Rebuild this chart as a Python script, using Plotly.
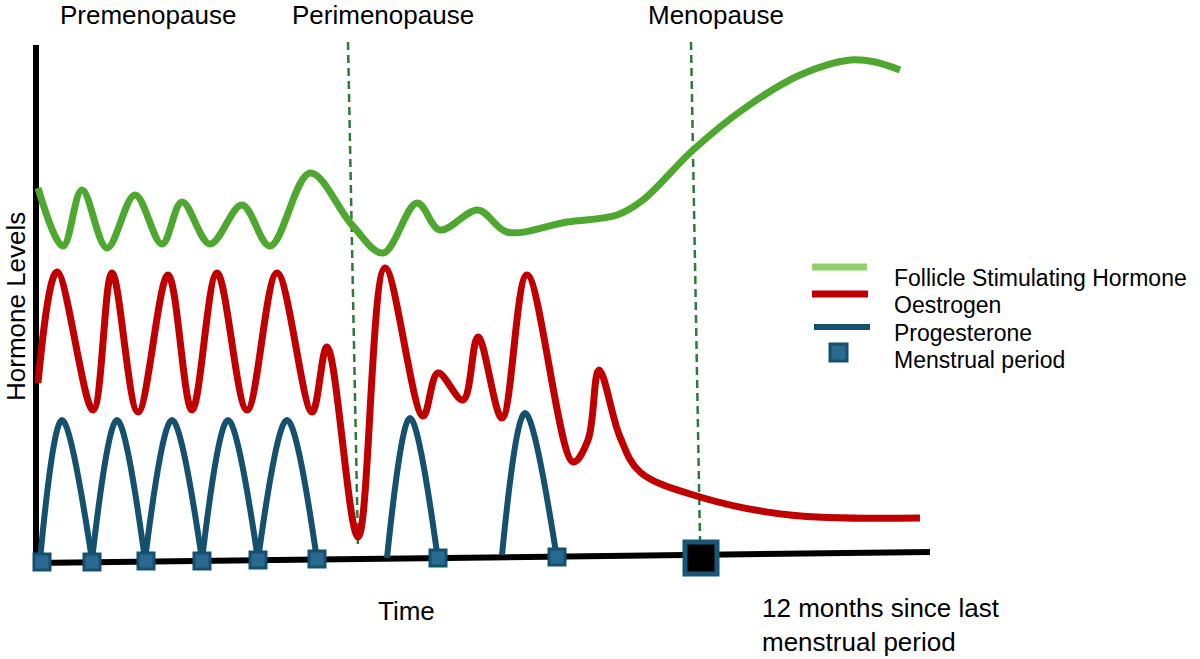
import plotly.graph_objects as go

# schematic chart, coordinates (x right, y down)
fsh_x = [38, 63, 82, 107, 135, 162, 182, 210, 242, 270, 310, 352, 383, 417, 440,
         478, 507, 567, 617, 643, 693, 745, 800, 850, 875, 900]
fsh_y = [188, 246, 190, 248, 195, 244, 202, 244, 205, 246, 173, 225, 253, 203, 230,
         210, 232, 222, 215, 200, 150, 108, 75, 60, 62, 70]

oes_x = [38, 57, 93, 112, 138, 168, 192, 217, 247, 277, 312, 327, 358, 385, 423,
         438, 463, 478, 502, 527, 573, 588, 599, 620, 640, 700, 790, 920]
oes_y = [383, 272, 410, 273, 412, 275, 410, 273, 410, 273, 412, 347, 537, 268, 416,
         373, 400, 337, 418, 275, 462, 440, 370, 437, 472, 497, 515, 518]

# progesterone arches, one segment per cycle
prog_x = [40, 62, 92, None, 92, 117, 145, None, 145, 172, 202, None, 202, 228, 258,
          None, 258, 287, 317, None, 387, 410, 438, None, 502, 525, 557]
prog_y = [560, 420, 560, None, 560, 420, 560, None, 560, 420, 560, None, 560, 420, 560,
          None, 560, 420, 560, None, 558, 418, 560, None, 555, 413, 559]

period_x = [42, 92, 146, 202, 258, 317, 438, 557]
period_y = [562, 562, 561, 561, 560, 559, 558, 557]
last_period_x = [701]
last_period_y = [558]

phase_labels = ["Premenopause", "Perimenopause", "Menopause"]
phase_x = [148, 383, 716]
peri_line = ([348, 358], [42, 548])
meno_line = ([691, 700], [42, 540])

legend_labels = ["Follicle Stimulating Hormone", "Oestrogen", "Progesterone", "Menstrual period"]
legend_y = [278, 305, 333, 360]

GREEN = "#4ea72e"
GREEN_LIGHT = "#8fd16b"
RED = "#c00000"
BLUE = "#15506f"
DASH_GREEN = "#2d7a3a"
FONT = "Liberation Sans, Arial, sans-serif"

fig = go.Figure()

for lx, ly in (peri_line, meno_line):
    fig.add_trace(go.Scatter(x=lx, y=ly, mode="lines",
                             line=dict(color=DASH_GREEN, width=2.5, dash="8px,5px")))

fig.add_trace(go.Scatter(x=fsh_x, y=fsh_y, mode="lines",
                         line=dict(color=GREEN, width=7, shape="spline", smoothing=1.0)))
fig.add_trace(go.Scatter(x=oes_x, y=oes_y, mode="lines",
                         line=dict(color=RED, width=7, shape="spline", smoothing=1.0)))
fig.add_trace(go.Scatter(x=prog_x, y=prog_y, mode="lines",
                         line=dict(color=BLUE, width=6, shape="spline", smoothing=1.0)))

fig.add_trace(go.Scatter(x=period_x, y=period_y, mode="markers",
                         marker=dict(symbol="square", size=16, color="#2a6a90",
                                     line=dict(color=BLUE, width=3))))
fig.add_trace(go.Scatter(x=last_period_x, y=last_period_y, mode="markers",
                         marker=dict(symbol="square", size=32, color="black",
                                     line=dict(color="#1a5577", width=5))))

# axes drawn as thick strokes
shapes = [
    dict(type="line", x0=36, y0=45, x1=36, y1=566, line=dict(color="black", width=6), layer="below"),
    dict(type="line", x0=33, y0=563, x1=930, y1=552, line=dict(color="black", width=6), layer="below"),
    # legend swatches
    dict(type="line", x0=812, y0=267, x1=867, y1=267, line=dict(color=GREEN_LIGHT, width=7)),
    dict(type="line", x0=812, y0=294, x1=868, y1=294, line=dict(color=RED, width=7)),
    dict(type="line", x0=814, y0=327, x1=870, y1=327, line=dict(color=BLUE, width=6)),
    dict(type="rect", x0=830, y0=344, x1=847, y1=361, fillcolor="#2a6a90",
         line=dict(color=BLUE, width=3)),
]

ann = []
for lab, px in zip(phase_labels, phase_x):
    ann.append(dict(x=px, y=15, text=lab, showarrow=False, xanchor="center", yanchor="middle",
                    font=dict(family=FONT, size=26, color="black")))
ann.append(dict(x=16, y=307, text="Hormone Levels", textangle=-90, showarrow=False,
                xanchor="center", yanchor="middle", font=dict(family=FONT, size=26, color="black")))
ann.append(dict(x=406, y=611, text="Time", showarrow=False, xanchor="center", yanchor="middle",
                font=dict(family=FONT, size=26, color="black")))
ann.append(dict(x=760, y=625, text="12 months since last<br>menstrual period", showarrow=False,
                xanchor="left", yanchor="middle", align="left",
                font=dict(family=FONT, size=26, color="black")))
for lab, ly in zip(legend_labels, legend_y):
    ann.append(dict(x=892, y=ly, text=lab, showarrow=False, xanchor="left", yanchor="middle",
                    font=dict(family=FONT, size=23, color="black")))

fig.update_layout(
    width=1200, height=659,
    margin=dict(l=0, r=0, t=0, b=0),
    paper_bgcolor="white", plot_bgcolor="white",
    showlegend=False,
    hovermode=False,
    xaxis=dict(range=[0, 1200], visible=False, fixedrange=True),
    yaxis=dict(range=[659, 0], visible=False, fixedrange=True),
    shapes=shapes,
    annotations=ann,
)

# drop the default body margin so the figure fills the window exactly
fig.write_html("out.html", config={"displayModeBar": False},
               post_script="document.body.style.margin='0';document.body.style.overflow='hidden';")
